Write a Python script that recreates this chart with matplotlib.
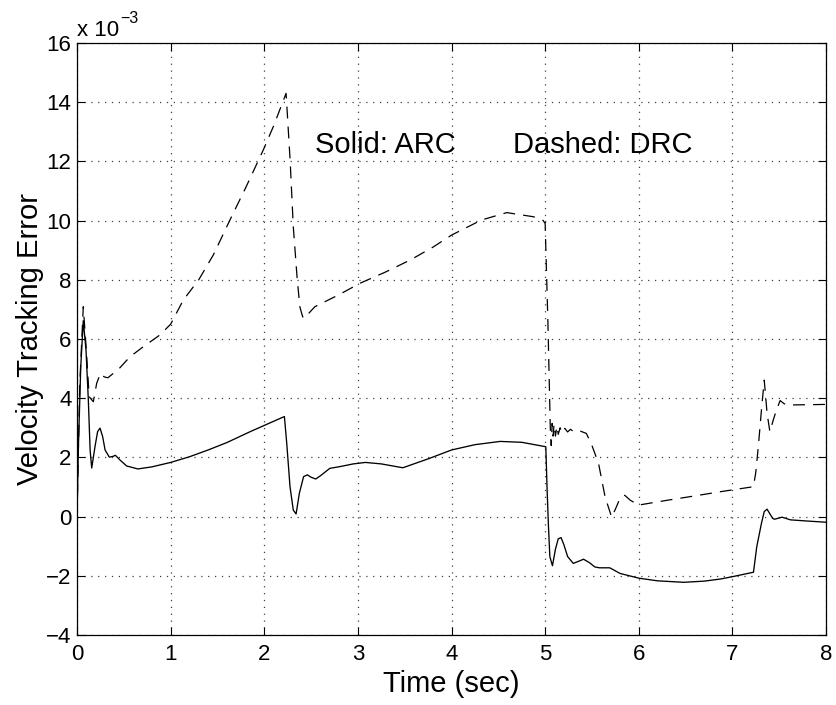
import matplotlib
matplotlib.use('Agg')
import matplotlib.pyplot as plt

plt.rcParams['font.family'] = ['Liberation Sans', 'DejaVu Sans']

# ARC (solid) - velocity tracking error, units of 1e-3
t_arc = [0, 0.014, 0.04, 0.067, 0.096, 0.121, 0.14, 0.157, 0.192, 0.22, 0.246, 0.274,
         0.30, 0.345, 0.38, 0.41, 0.46, 0.53, 0.65, 0.8, 1.0, 1.2, 1.4, 1.6, 1.85, 2.0,
         2.215, 2.24, 2.275, 2.31, 2.34, 2.375, 2.42, 2.46, 2.50, 2.55, 2.60, 2.70, 2.81,
         2.95, 3.08, 3.25, 3.48, 3.75, 4.0, 4.25, 4.52, 4.75, 5.007, 5.02, 5.035, 5.05,
         5.078, 5.11, 5.14, 5.17, 5.20, 5.24, 5.30, 5.35, 5.41, 5.47, 5.53, 5.58, 5.69,
         5.80, 6.0, 6.2, 6.48, 6.7, 6.87, 7.0, 7.225, 7.26, 7.31, 7.34, 7.37, 7.43,
         7.45, 7.53, 7.62, 7.8, 8.0]
v_arc = [0.0, 2.25, 5.06, 6.62, 5.63, 3.94, 2.25, 1.64, 2.36, 2.87, 2.99, 2.70,
         2.25, 2.01, 2.03, 2.07, 1.91, 1.71, 1.61, 1.68, 1.83, 2.02, 2.25, 2.50, 2.87, 3.08,
         3.38, 2.48, 1.01, 0.22, 0.09, 0.79, 1.35, 1.41, 1.33, 1.27, 1.38, 1.63, 1.69,
         1.78, 1.83, 1.78, 1.65, 1.95, 2.25, 2.43, 2.54, 2.51, 2.36, 1.0, -0.3, -1.35,
         -1.66, -1.1, -0.75, -0.71, -0.95, -1.35, -1.58, -1.52, -1.44, -1.55, -1.70, -1.73, -1.73,
         -1.92, -2.08, -2.17, -2.22, -2.18, -2.11, -2.03, -1.88, -1.02, -0.23, 0.17, 0.25, -0.06,
         -0.09, -0.02, -0.11, -0.15, -0.19]

# DRC (dashed)
t_drc = [0, 0.03, 0.067, 0.10, 0.13, 0.174, 0.21, 0.25, 0.29, 0.33, 0.45, 0.566, 0.7,
         0.887, 1.0, 1.136, 1.3, 1.456, 1.65, 1.8, 1.99, 2.1, 2.233, 2.276, 2.31, 2.35,
         2.38, 2.41, 2.436, 2.47, 2.54, 2.8, 3.02, 3.3, 3.56, 3.8, 4.0, 4.32, 4.59, 4.875,
         4.98, 5.0, 5.03, 5.055, 5.065, 5.075, 5.085, 5.095, 5.11, 5.125, 5.14, 5.16, 5.18,
         5.21, 5.24, 5.27, 5.30, 5.35, 5.44, 5.50, 5.57, 5.64, 5.71, 5.75, 5.80, 5.85, 5.91,
         6.0, 6.3, 6.6, 6.87, 7.225, 7.25, 7.28, 7.31, 7.34, 7.37, 7.40, 7.44, 7.47, 7.51,
         7.55, 7.58, 7.8, 8.0]
v_drc = [0.0, 4.5, 7.09, 5.6, 4.05, 3.88, 4.5, 4.84, 4.72, 4.69, 5.0, 5.40, 5.72,
         6.14, 6.5, 7.32, 8.0, 8.84, 10.13, 11.1, 12.39, 13.2, 14.30, 12.05, 9.8, 8.1,
         7.09, 6.75, 6.70, 6.85, 7.09, 7.5, 7.88, 8.27, 8.67, 9.1, 9.51, 10.02, 10.27, 10.13,
         10.0, 9.9, 6.5, 3.0, 2.4, 3.15, 2.72, 3.12, 2.72, 3.05, 2.78, 3.0, 2.83,
         2.98, 2.86, 2.95, 2.88, 2.92, 2.81, 2.4, 1.80, 0.67, -0.02, 0.25, 0.62, 0.72, 0.55,
         0.39, 0.55, 0.70, 0.84, 1.01, 1.5, 2.48, 3.6, 4.61, 3.5, 2.87, 3.3, 3.60, 3.92,
         3.82, 3.77, 3.78, 3.79]

x_ticks = [0, 1, 2, 3, 4, 5, 6, 7, 8]
y_ticks = [-4, -2, 0, 2, 4, 6, 8, 10, 12, 14, 16]

fig = plt.figure(figsize=(8.37, 7.05), dpi=100)
ax = fig.add_axes([0.092, 0.0993, 0.8949, 0.8397])

ax.plot(t_arc, v_arc, color='black', linewidth=0.95)
ax.plot(t_drc, v_drc, color='black', linewidth=0.9, dashes=(9.5, 6.5))

ax.set_xlim(0, 8)
ax.set_ylim(-4, 16)
ax.set_xticks(x_ticks)
ax.set_yticks(y_ticks)
ax.set_yticklabels([str(v).replace('-', '\u2212') for v in y_ticks])

ax.grid(True, color='0.25', linestyle=(0, (1, 4.5)), linewidth=0.9)
ax.tick_params(direction='in', top=True, right=True, length=6, width=0.8,
               labelsize=16)
ax.tick_params(axis='x', pad=6.5)
ax.tick_params(axis='y', pad=4)
for s in ax.spines.values():
    s.set_linewidth(0.9)

ax.set_xlabel('Time (sec)', fontsize=21)
ax.set_ylabel('Velocity Tracking Error', fontsize=21)
ax.xaxis.set_label_coords(0.5, -0.059)
ax.yaxis.set_label_coords(-0.044, 0.5)

# skalovani osy y (MATLAB styl)
ax.text(0.0, 1.0118, 'x 10', transform=ax.transAxes, fontsize=16, va='baseline')
ax.text(0.0574, 1.0343, '\u22123', transform=ax.transAxes, fontsize=11.5, va='baseline')

ax.text(2.54, 12.28, 'Solid: ARC', fontsize=21, va='baseline')
ax.text(4.66, 12.28, 'Dashed: DRC', fontsize=21, va='baseline')

plt.savefig('out.png', dpi=100)
